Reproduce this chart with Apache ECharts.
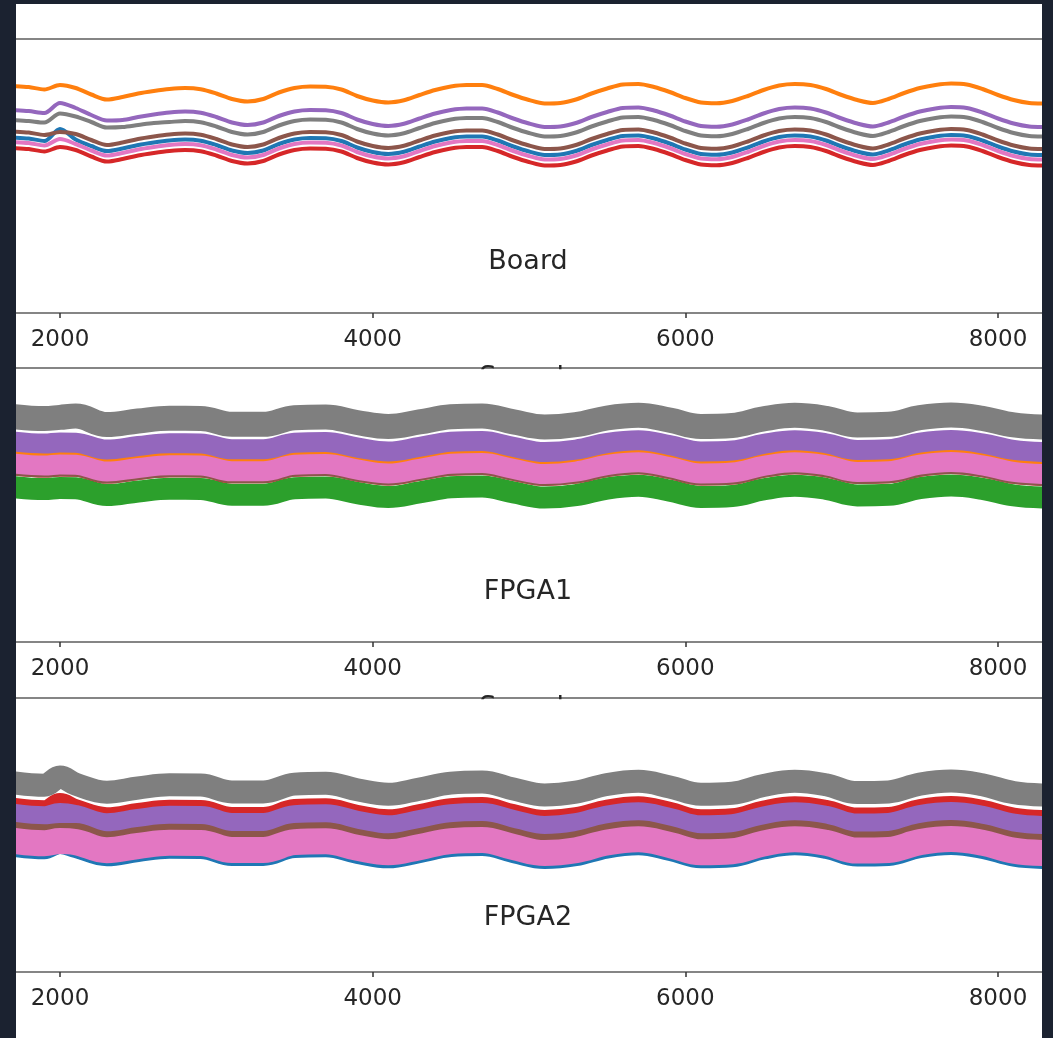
<!DOCTYPE html>
<html>
<head>
<meta charset="utf-8">
<script src="https://cdn.jsdelivr.net/npm/echarts@6/dist/echarts.min.js"></script>
<style>
  html, body { margin: 0; padding: 0; background: #1b2230; }
  #chart { position: absolute; left: 16px; top: 4px; width: 1026px; height: 1034px; background: #ffffff; }
</style>
</head>
<body>
<div id="chart"></div>
<script>
// ---- Data (temperature-like readings vs. sample index) ----
const panelTitles = ["Board", "FPGA1", "FPGA2"];
const xTickValues = [2000, 4000, 6000, 8000];
const xName = "Samples";

const boardSamples = [1700,1800,1900,2000,2100,2200,2300,2400,2500,2600,2700,2800,2900,3000,3100,3200,3300,3400,3500,3600,3700,3800,3900,4000,4100,4200,4300,4400,4500,4600,4700,4800,4900,5000,5100,5200,5300,5400,5500,5600,5700,5800,5900,6000,6100,6200,6300,6400,6500,6600,6700,6800,6900,7000,7100,7200,7300,7400,7500,7600,7700,7800,7900,8000,8100,8200,8300];

const boardOrange = [52.70,52.60,52.35,52.80,52.50,51.85,51.35,51.60,51.95,52.20,52.40,52.50,52.38,51.95,51.40,51.15,51.40,52.05,52.50,52.65,52.63,52.35,51.70,51.25,51.05,51.27,51.80,52.30,52.65,52.80,52.80,52.40,51.80,51.30,50.95,51.00,51.35,51.95,52.45,52.85,52.90,52.60,52.10,51.50,51.05,50.97,51.20,51.70,52.30,52.75,52.90,52.80,52.40,51.80,51.30,51.00,51.40,52.00,52.50,52.80,52.95,52.85,52.40,51.80,51.30,51.00,50.95];
const boardPurple = [50.30,50.20,50.00,51.00,50.50,49.80,49.25,49.30,49.60,49.85,50.05,50.15,50.03,49.60,49.05,48.80,49.05,49.70,50.15,50.30,50.28,50.00,49.35,48.90,48.70,48.92,49.45,49.95,50.30,50.45,50.45,50.05,49.45,48.95,48.60,48.65,49.00,49.60,50.10,50.50,50.55,50.25,49.75,49.15,48.70,48.62,48.85,49.35,49.95,50.40,50.55,50.45,50.05,49.45,48.95,48.65,49.05,49.65,50.15,50.45,50.60,50.50,50.05,49.45,48.95,48.65,48.60];
const boardGray = [49.30,49.20,49.05,49.95,49.65,49.10,48.55,48.60,48.80,49.00,49.10,49.20,49.08,48.65,48.10,47.85,48.10,48.75,49.20,49.35,49.33,49.05,48.40,47.95,47.75,47.97,48.50,49.00,49.35,49.50,49.50,49.10,48.50,48.00,47.65,47.70,48.05,48.65,49.15,49.55,49.60,49.30,48.80,48.20,47.75,47.67,47.90,48.40,49.00,49.45,49.60,49.50,49.10,48.50,48.00,47.70,48.10,48.70,49.20,49.50,49.65,49.55,49.10,48.50,48.00,47.70,47.65];
const boardBrown = [48.15,48.05,47.80,48.10,47.90,47.30,46.80,47.05,47.40,47.65,47.85,47.95,47.83,47.40,46.85,46.60,46.85,47.50,47.95,48.10,48.08,47.80,47.15,46.70,46.50,46.72,47.25,47.75,48.10,48.25,48.25,47.85,47.25,46.75,46.40,46.45,46.80,47.40,47.90,48.30,48.35,48.05,47.55,46.95,46.50,46.42,46.65,47.15,47.75,48.20,48.35,48.25,47.85,47.25,46.75,46.45,46.85,47.45,47.95,48.25,48.40,48.30,47.85,47.25,46.75,46.45,46.40];
const boardBlue = [47.55,47.45,47.20,48.40,47.35,46.70,46.20,46.45,46.80,47.05,47.25,47.35,47.23,46.80,46.25,46.00,46.25,46.90,47.35,47.50,47.48,47.20,46.55,46.10,45.90,46.12,46.65,47.15,47.50,47.65,47.65,47.25,46.65,46.15,45.80,45.85,46.20,46.80,47.30,47.70,47.75,47.45,46.95,46.35,45.90,45.82,46.05,46.55,47.15,47.60,47.75,47.65,47.25,46.65,46.15,45.85,46.25,46.85,47.35,47.65,47.80,47.70,47.25,46.65,46.15,45.85,45.80];
const boardPink = [47.10,47.00,46.75,47.40,46.90,46.25,45.75,46.00,46.35,46.60,46.80,46.90,46.78,46.35,45.80,45.55,45.80,46.45,46.90,47.05,47.03,46.75,46.10,45.65,45.45,45.67,46.20,46.70,47.05,47.20,47.20,46.80,46.20,45.70,45.35,45.40,45.75,46.35,46.85,47.25,47.30,47.00,46.50,45.90,45.45,45.37,45.60,46.10,46.70,47.15,47.30,47.20,46.80,46.20,45.70,45.40,45.80,46.40,46.90,47.20,47.35,47.25,46.80,46.20,45.70,45.40,45.35];
const boardRed = [46.50,46.40,46.15,46.60,46.30,45.65,45.15,45.40,45.75,46.00,46.20,46.30,46.18,45.75,45.20,44.95,45.20,45.85,46.30,46.45,46.43,46.15,45.50,45.05,44.85,45.07,45.60,46.10,46.45,46.60,46.60,46.20,45.60,45.10,44.75,44.80,45.15,45.75,46.25,46.65,46.70,46.40,45.90,45.30,44.85,44.77,45.00,45.50,46.10,46.55,46.70,46.60,46.20,45.60,45.10,44.80,45.20,45.80,46.30,46.60,46.75,46.65,46.20,45.60,45.10,44.80,44.75];

const fpgaSamples = [1700,1900,2000,2100,2300,2500,2700,2900,3100,3300,3500,3700,3900,4100,4300,4500,4700,4900,5100,5300,5500,5700,5900,6100,6300,6500,6700,6900,7100,7300,7500,7700,7900,8100,8300];

const fpga1Gray   = [62.55,62.34,62.46,62.60,61.74,62.10,62.37,62.36,61.77,61.77,62.43,62.51,61.95,61.56,62.01,62.52,62.61,62.01,61.50,61.74,62.40,62.67,62.19,61.56,61.65,62.31,62.67,62.37,61.71,61.77,62.43,62.70,62.37,61.71,61.50];
const fpga1Purple = [60.05,59.84,59.96,59.93,59.24,59.60,59.87,59.86,59.27,59.27,59.93,60.01,59.45,59.06,59.51,60.02,60.11,59.51,59.00,59.24,59.90,60.17,59.69,59.06,59.15,59.81,60.17,59.87,59.21,59.27,59.93,60.20,59.87,59.21,59.00];
const fpga1Orange = [59.15,58.94,59.06,59.03,58.34,58.70,58.97,58.96,58.37,58.37,59.03,59.11,58.55,58.16,58.61,59.12,59.21,58.61,58.10,58.34,59.00,59.27,58.79,58.16,58.25,58.91,59.27,58.97,58.31,58.37,59.03,59.30,58.97,58.31,58.10];
const fpga1Pink   = [57.85,57.64,57.76,57.73,57.04,57.40,57.67,57.66,57.07,57.07,57.73,57.81,57.25,56.86,57.31,57.82,57.91,57.31,56.80,57.04,57.70,57.97,57.49,56.86,56.95,57.61,57.97,57.67,57.01,57.07,57.73,58.00,57.67,57.01,56.80];
const fpga1Red    = [57.15,56.94,57.06,57.03,56.34,56.70,56.97,56.96,56.37,56.37,57.03,57.11,56.55,56.16,56.61,57.12,57.21,56.61,56.10,56.34,57.00,57.27,56.79,56.16,56.25,56.91,57.27,56.97,56.31,56.37,57.03,57.30,56.97,56.31,56.10];
const fpga1Brown  = [57.05,56.84,56.96,56.93,56.24,56.60,56.87,56.86,56.27,56.27,56.93,57.01,56.45,56.06,56.51,57.02,57.11,56.51,56.00,56.24,56.90,57.17,56.69,56.06,56.15,56.81,57.17,56.87,56.21,56.27,56.93,57.20,56.87,56.21,56.00];
const fpga1Green  = [55.50,55.29,55.41,55.38,54.69,55.05,55.32,55.31,54.72,54.72,55.38,55.46,54.90,54.51,54.96,55.47,55.56,54.96,54.45,54.69,55.35,55.62,55.14,54.51,54.60,55.26,55.62,55.32,54.66,54.72,55.38,55.65,55.32,54.66,54.45];

const fpga2Gray   = [58.93,58.68,59.50,58.79,57.98,58.40,58.72,58.70,58.01,58.01,58.79,58.88,58.22,57.77,58.29,58.89,59.00,58.29,57.70,57.98,58.75,59.07,58.51,57.77,57.87,58.65,59.07,58.72,57.94,58.01,58.79,59.10,58.72,57.94,57.70];
const fpga2Red    = [56.53,56.28,57.00,56.39,55.58,56.00,56.32,56.30,55.61,55.61,56.39,56.48,55.82,55.37,55.89,56.49,56.60,55.89,55.30,55.58,56.35,56.67,56.11,55.37,55.47,56.25,56.67,56.32,55.54,55.61,56.39,56.70,56.32,55.54,55.30];
const fpga2Purple = [55.63,55.38,55.70,55.49,54.68,55.10,55.42,55.40,54.71,54.71,55.49,55.58,54.92,54.47,54.99,55.59,55.70,54.99,54.40,54.68,55.45,55.77,55.21,54.47,54.57,55.35,55.77,55.42,54.64,54.71,55.49,55.80,55.42,54.64,54.40];
const fpga2Brown  = [54.33,54.08,54.20,54.19,53.38,53.80,54.12,54.10,53.41,53.41,54.19,54.28,53.62,53.17,53.69,54.29,54.40,53.69,53.10,53.38,54.15,54.47,53.91,53.17,53.27,54.05,54.47,54.12,53.34,53.41,54.19,54.50,54.12,53.34,53.10];
const fpga2Pink   = [53.13,52.88,53.10,52.99,52.18,52.60,52.92,52.90,52.21,52.21,52.99,53.08,52.42,51.97,52.49,53.09,53.20,52.49,51.90,52.18,52.95,53.27,52.71,51.97,52.07,52.85,53.27,52.92,52.14,52.21,52.99,53.30,52.92,52.14,51.90];
const fpga2Blue   = [52.33,52.08,52.60,52.19,51.38,51.80,52.12,52.10,51.41,51.41,52.19,52.28,51.62,51.17,51.69,52.29,52.40,51.69,51.10,51.38,52.15,52.47,51.91,51.17,51.27,52.05,52.47,52.12,51.34,51.41,52.19,52.50,52.12,51.34,51.10];

// ---- Styling ----
const C = { blue:'#1f77b4', orange:'#ff7f0e', green:'#2ca02c', red:'#d62728', purple:'#9467bd', brown:'#8c564b', pink:'#e377c2', gray:'#7f7f7f' };
const FONT = 'DejaVu Sans';
const X_MIN = 1718.6, X_MAX = 8281.4;
const gridTops = [35, 364, 694];
const GRID_H = 274;
const yRanges = [[30, 57.4], [40, 67.4], [40, 67.4]];

function pairs(xs, ys) { return xs.map((x, i) => [x, ys[i]]); }

function line(name, gi, xs, ys, color, width, smooth) {
  return {
    name, type: 'line', xAxisIndex: gi * 2, yAxisIndex: gi,
    data: pairs(xs, ys), showSymbol: false, symbol: 'none',
    smooth: smooth, silent: true, animation: false,
    lineStyle: { color, width, cap: 'butt', join: 'round' },
    itemStyle: { color }
  };
}

const grids = gridTops.map(t => ({ left: 0, right: 0, top: t, height: GRID_H, containLabel: false }));
const xAxes = [];
gridTops.forEach((t, i) => {
  xAxes.push({
    gridIndex: i, type: 'value', min: X_MIN, max: X_MAX, position: 'bottom',
    axisLine: { show: true, onZero: false, lineStyle: { color: '#858585', width: 2 } },
    axisTick: { show: true, customValues: xTickValues, length: 5, lineStyle: { color: '#333', width: 1.5 } },
    axisLabel: { show: true, customValues: xTickValues, fontSize: 23, fontFamily: FONT, color: '#262626', margin: 16, formatter: v => String(v) },
    splitLine: { show: false }
  });
  xAxes.push({
    gridIndex: i, type: 'value', min: X_MIN, max: X_MAX, position: 'top',
    axisLine: { show: true, onZero: false, lineStyle: { color: '#858585', width: 2 } },
    axisTick: { show: false }, axisLabel: { show: false }, splitLine: { show: false }
  });
});
const yAxes = yRanges.map((r, i) => ({ gridIndex: i, type: 'value', min: r[0], max: r[1], show: false, splitLine: { show: false } }));

const BW = 4;
const series = [
  line('blue', 0, boardSamples, boardBlue, C.blue, BW, 0.3),
  line('orange', 0, boardSamples, boardOrange, C.orange, BW, 0.3),
  line('red', 0, boardSamples, boardRed, C.red, BW, 0.3),
  line('purple', 0, boardSamples, boardPurple, C.purple, BW, 0.3),
  line('brown', 0, boardSamples, boardBrown, C.brown, BW, 0.3),
  line('pink', 0, boardSamples, boardPink, C.pink, BW, 0.3),
  line('gray', 0, boardSamples, boardGray, C.gray, BW, 0.3),

  line('orange', 1, fpgaSamples, fpga1Orange, C.orange, 10, 0.4),
  line('green', 1, fpgaSamples, fpga1Green, C.green, 22, 0.4),
  line('red', 1, fpgaSamples, fpga1Red, C.red, 10, 0.4),
  line('purple', 1, fpgaSamples, fpga1Purple, C.purple, 20, 0.4),
  line('brown', 1, fpgaSamples, fpga1Brown, C.brown, 8, 0.4),
  line('pink', 1, fpgaSamples, fpga1Pink, C.pink, 20, 0.4),
  line('gray', 1, fpgaSamples, fpga1Gray, C.gray, 25, 0.4),

  line('blue', 2, fpgaSamples, fpga2Blue, C.blue, 16, 0.4),
  line('red', 2, fpgaSamples, fpga2Red, C.red, 18, 0.4),
  line('purple', 2, fpgaSamples, fpga2Purple, C.purple, 24, 0.4),
  line('brown', 2, fpgaSamples, fpga2Brown, C.brown, 14, 0.4),
  line('pink', 2, fpgaSamples, fpga2Pink, C.pink, 26, 0.4),
  line('gray', 2, fpgaSamples, fpga2Gray, C.gray, 23, 0.4)
];

const titleYs = [258, 588, 914];
const graphic = panelTitles.map((t, i) => ({
  type: 'text', x: 512, y: titleYs[i], z: 50, silent: true,
  style: { text: t, fill: '#262626', font: '27px "' + FONT + '"', textAlign: 'center', textVerticalAlign: 'middle' }
}));
// x-axis name of the upper panels, almost entirely hidden by the panel below
[0, 1].forEach(i => {
  graphic.push({ type: 'text', x: 521, y: gridTops[i + 1] - 4, z: 1, silent: true,
    style: { text: xName, fill: '#262626', font: '27px "' + FONT + '"', textAlign: 'center', textVerticalAlign: 'top' } });
});
[0, 1].forEach(i => {
  graphic.push({ type: 'rect', z: 100, silent: true,
    shape: { x: 430, y: gridTops[i + 1] + 1.2, width: 200, height: 30 },
    style: { fill: '#ffffff' } });
});

const chart = echarts.init(document.getElementById('chart'), null, { renderer: 'canvas' });
chart.setOption({
  animation: false,
  backgroundColor: '#ffffff',
  grid: grids,
  xAxis: xAxes,
  yAxis: yAxes,
  series: series,
  graphic: graphic
});
</script>
</body>
</html>
